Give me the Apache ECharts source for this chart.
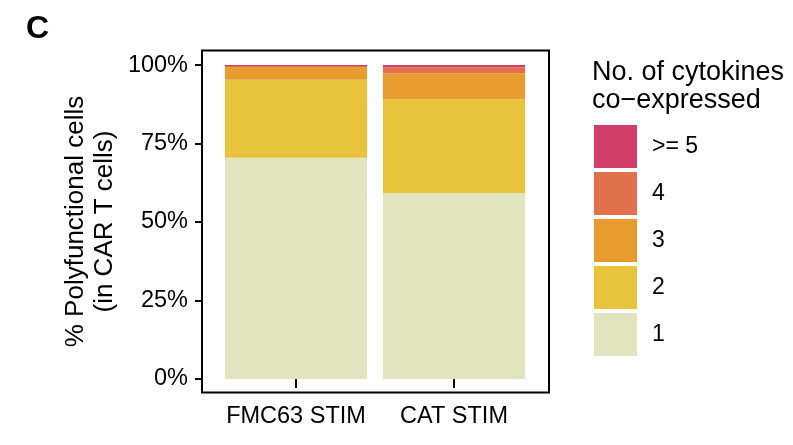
<!DOCTYPE html>
<html><head><meta charset="utf-8">
<script src="https://cdn.jsdelivr.net/npm/echarts@6/dist/echarts.min.js"></script>
<style>html,body{margin:0;padding:0;background:#fff}#c{width:793px;height:445px}</style>
</head><body><div id="c"></div>
<script>
const categories = ['FMC63 STIM', 'CAT STIM'];
const levelNames = ['1', '2', '3', '4', '>= 5'];
const level1 = [70.5, 59.2];
const level2 = [24.8, 29.9];
const level3 = [4.1, 8.3];
const level4 = [0.3, 1.9];
const level5 = [0.3, 0.7];
const yTicks = [0, 25, 50, 75, 100];
const colors = ['#E0E5BF', '#E7C43C', '#E89B2F', '#E1704D', '#D23F6A'];
const seriesValues = [level1, level2, level3, level4, level5];
const FONT = 'Liberation Sans, Arial, Helvetica, sans-serif';

const chart = echarts.init(document.getElementById('c'), null, {renderer: 'canvas'});
chart.setOption({
  animation: false,
  textStyle: {fontFamily: FONT},
  grid: {left: 217, right: 260, top: 50, bottom: 52, show: false},
  graphic: [
    {type: 'rect', shape: {x: 202, y: 50.5, width: 347, height: 342}, style: {fill: 'none', stroke: '#000', lineWidth: 2}, z: 10},
    {type: 'text', left: 26, top: 13, style: {text: 'C', font: 'bold 32px ' + FONT, fill: '#000'}}
  ],
  title: {
    text: 'No. of cytokines\nco\u2212expressed',
    left: 592, top: 59, padding: 0,
    textStyle: {fontFamily: FONT, fontSize: 27, fontWeight: 'normal', color: '#000', lineHeight: 28}
  },
  legend: {
    orient: 'vertical', left: 594, top: 125, padding: 0,
    itemWidth: 43, itemHeight: 43, itemGap: 4,
    icon: 'rect',
    data: levelNames.slice().reverse(),
    textStyle: {fontFamily: FONT, fontSize: 23, color: '#000', padding: [0, 0, 0, 10]}
  },
  xAxis: {
    type: 'category', data: categories,
    axisLine: {show: false},
    axisTick: {show: true, interval: 0, alignWithLabel: true, length: 9, lineStyle: {color: '#000', width: 2}},
    axisLabel: {interval: 0, fontFamily: FONT, fontSize: 23.5, color: '#000', margin: 12}
  },
  yAxis: {
    type: 'value', min: -4.5, max: 104.8, offset: 15,
    splitLine: {show: false},
    axisLine: {show: false},
    axisTick: {show: true, customValues: yTicks, length: 7, lineStyle: {color: '#000', width: 2}},
    axisLabel: {customValues: yTicks, formatter: v => v + '%', fontFamily: FONT, fontSize: 23.5, color: '#000', margin: 14},
    name: '% Polyfunctional cells\n(in CAR T cells)',
    nameLocation: 'middle', nameRotate: 90, nameGap: 83,
    nameTextStyle: {fontFamily: FONT, fontSize: 26, color: '#000', lineHeight: 29}
  },
  series: levelNames.map((n, i) => ({
    name: n, type: 'bar', stack: 'total', barWidth: '90%',
    data: seriesValues[i],
    itemStyle: {color: colors[i]}
  }))
});
</script></body></html>
